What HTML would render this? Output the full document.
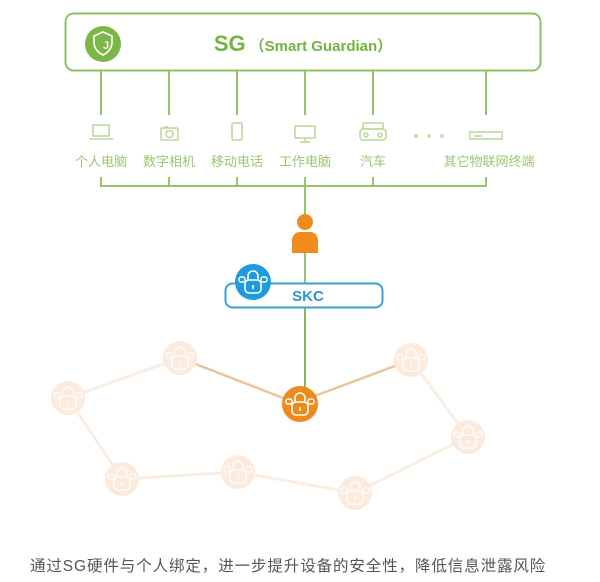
<!DOCTYPE html>
<html><head><meta charset="utf-8"><style>
html,body{margin:0;padding:0;background:#fff;width:600px;height:582px;overflow:hidden}
svg{display:block}
text{font-family:"Liberation Sans","Noto Sans CJK SC",sans-serif}
</style></head><body>
<svg width="600" height="582" viewBox="0 0 600 582" xmlns="http://www.w3.org/2000/svg">
<defs>
<g id="lock">
  <rect x="-8" y="-3" width="16" height="13" rx="4" fill="none" stroke="#fff" stroke-width="1.6"/>
  <path d="M-5,-3 v-4 a5,5 0 0 1 10,0 v4" fill="none" stroke="#fff" stroke-width="1.6"/>
  <rect x="-14" y="-6" width="6" height="5" rx="2" fill="none" stroke="#fff" stroke-width="1.4"/>
  <rect x="8" y="-6" width="6" height="5" rx="2" fill="none" stroke="#fff" stroke-width="1.4"/>
  <line x1="0" y1="2" x2="0" y2="6" stroke="#fff" stroke-width="1.6"/>
</g>
</defs>
<rect x="65.5" y="13.5" width="475" height="57" rx="8" fill="#fff" stroke="#8dc063" stroke-width="2"/>
<circle cx="103" cy="44" r="18" fill="#7cb646"/>
<path d="M103,32 l9,4 v6 c0,7 -5,11 -9,13 c-4,-2 -9,-6 -9,-13 v-6 z" fill="none" stroke="#fff" stroke-width="1.6"/>
<text x="106" y="49" font-size="11" font-weight="bold" fill="#fff" text-anchor="middle">J</text>
<text x="303" y="51" text-anchor="middle" fill="#72b43f"><tspan font-size="22" font-weight="bold">SG</tspan><tspan font-size="15" font-weight="bold" dx="4">（Smart Guardian）</tspan></text>
<g stroke="#96c46a" stroke-width="2">
<line x1="101" y1="71" x2="101" y2="115"/>
<line x1="169" y1="71" x2="169" y2="115"/>
<line x1="237" y1="71" x2="237" y2="115"/>
<line x1="305" y1="71" x2="305" y2="115"/>
<line x1="373" y1="71" x2="373" y2="115"/>
<line x1="486" y1="71" x2="486" y2="115"/>
<line x1="101" y1="177" x2="101" y2="186"/>
<line x1="169" y1="177" x2="169" y2="186"/>
<line x1="237" y1="177" x2="237" y2="186"/>
<line x1="373" y1="177" x2="373" y2="186"/>
<line x1="486" y1="177" x2="486" y2="186"/>
<line x1="100" y1="186" x2="487" y2="186"/>
<line x1="305" y1="177" x2="305" y2="215"/>
</g>
<line x1="305" y1="250" x2="305" y2="390" stroke="#7aab4e" stroke-width="1.5"/>
<g fill="none" stroke="#bcd89c" stroke-width="1.6">
<rect x="93" y="125" width="16" height="11"/><line x1="89" y1="139" x2="113" y2="139"/>
<rect x="161" y="128" width="17" height="12" rx="1"/><circle cx="169.5" cy="134" r="3.5"/><line x1="164" y1="127" x2="168" y2="127"/>
<rect x="232" y="123" width="10" height="17" rx="1.5"/>
<rect x="295" y="126" width="20" height="12"/><line x1="305" y1="138" x2="305" y2="142"/><line x1="300" y1="142" x2="310" y2="142"/>
<rect x="363" y="123" width="20" height="6" rx="1"/><rect x="360" y="129" width="26" height="11" rx="3"/><circle cx="366" cy="135" r="2"/><circle cx="380" cy="135" r="2"/>
<rect x="470" y="132" width="32" height="7"/><line x1="474" y1="136" x2="482" y2="136"/>
</g>
<g fill="#c4ddaa"><circle cx="416" cy="136" r="2"/><circle cx="429" cy="136" r="2"/><circle cx="442" cy="136" r="2"/></g>
<g font-size="13" fill="#9cc474" text-anchor="middle">
<text x="101" y="166">个人电脑</text>
<text x="169" y="166">数字相机</text>
<text x="237" y="166">移动电话</text>
<text x="305" y="166">工作电脑</text>
<text x="373" y="166">汽车</text>
<text x="489" y="166">其它物联网终端</text>
</g>
<circle cx="305" cy="222" r="8" fill="#f08c1e"/>
<path d="M292,253 v-13 a8,8 0 0 1 8,-8 h10 a8,8 0 0 1 8,8 v13 z" fill="#f08c1e"/>
<rect x="225.5" y="283.5" width="157" height="24" rx="7" fill="#fff" stroke="#3aa0d8" stroke-width="2"/>
<line x1="305" y1="308" x2="305" y2="390" stroke="#7aab4e" stroke-width="1.5"/>
<circle cx="253" cy="282" r="18" fill="#1e9ae0"/>
<use href="#lock" x="253" y="283"/>
<text x="308" y="301" text-anchor="middle" font-size="15" font-weight="bold" fill="#2f95d4">SKC</text>
<g stroke="#faeee2" stroke-width="3" fill="none">
<polyline points="180,358 68,398 122,479 238,472 355,493 468,437 411,360"/>
</g>
<g stroke="#ecc49c" stroke-width="2.5">
<line x1="180" y1="358" x2="296" y2="403"/>
<line x1="296" y1="403" x2="411" y2="360"/>
</g>
<g fill="#fcebdc">
<circle cx="180" cy="358" r="17"/><circle cx="68" cy="398" r="17"/><circle cx="122" cy="479" r="17"/>
<circle cx="238" cy="472" r="17"/><circle cx="355" cy="493" r="17"/><circle cx="468" cy="437" r="17"/><circle cx="411" cy="360" r="17"/>
</g>
<g opacity="0.8">
<use href="#lock" x="180" y="359"/><use href="#lock" x="68" y="399"/><use href="#lock" x="122" y="480"/>
<use href="#lock" x="238" y="473"/><use href="#lock" x="355" y="494"/><use href="#lock" x="468" y="438"/><use href="#lock" x="411" y="361"/>
</g>
<circle cx="300" cy="404" r="18" fill="#ee8a1a"/>
<use href="#lock" x="300" y="405"/>
<text x="30" y="571" font-size="15.5" fill="#555" letter-spacing="0.9">通过SG硬件与个人绑定，进一步提升设备的安全性，降低信息泄露风险</text>
</svg>
</body></html>
